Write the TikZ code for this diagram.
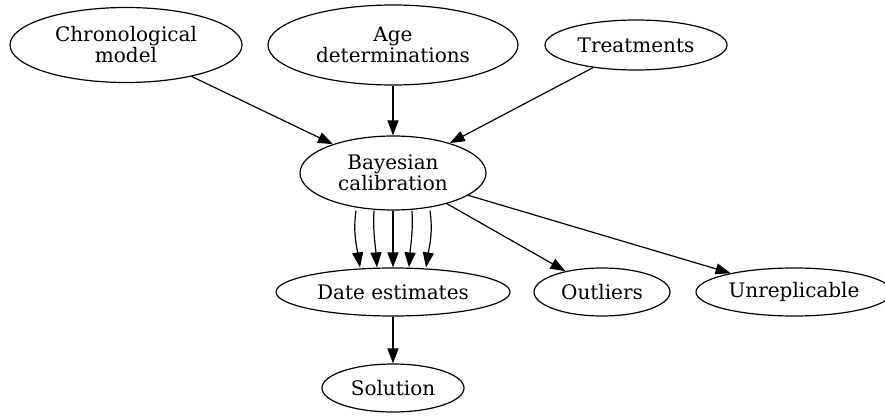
\documentclass[tikz,border=0pt]{standalone}
\usepackage{fontspec}
\setmainfont{DejaVu Serif}
\usetikzlibrary{arrows.meta,shapes.geometric}

\begin{document}
\begin{tikzpicture}[x=1pt,y=-1pt,>={Triangle[length=15pt,width=11pt]},line width=1.2pt,
 every node/.style={font=\fontsize{20}{21}\selectfont},
 blob/.style={draw,ellipse,align=center,inner sep=0pt}]
\useasboundingbox (0,0) rectangle (885,417);
\node[blob,minimum width=232,minimum height=75] (chrono) at (126,45) {Chronological\\model};
\node[blob,minimum width=250,minimum height=80] (ages) at (393,45) {Age\\determinations};
\node[blob,minimum width=182,minimum height=50] (treat) at (636,45) {Treatments};
\node[blob,minimum width=186,minimum height=74] (bayes) at (393,173) {Bayesian\\calibration};
\node[blob,minimum width=234,minimum height=48] (dates) at (393,292) {Date estimates};
\node[blob,minimum width=136,minimum height=48] (outl) at (602,292) {Outliers};
\node[blob,minimum width=196,minimum height=48] (unrep) at (794,292) {Unreplicable};
\node[blob,minimum width=142,minimum height=48] (sol) at (393,388) {Solution};
\draw[->] (chrono) -- (bayes);
\draw[->] (ages) -- (bayes);
\draw[->] (treat) -- (bayes);
\draw[->] ([xshift=-37]bayes.south) to[out=-98,in=99] ([xshift=-33]dates.north);
\draw[->] ([xshift=-19]bayes.south) to[out=-93,in=94] ([xshift=-16]dates.north);
\draw[->] (bayes.south) -- (dates.north);
\draw[->] ([xshift=19]bayes.south) to[out=-87,in=86] ([xshift=16]dates.north);
\draw[->] ([xshift=37]bayes.south) to[out=-82,in=81] ([xshift=33]dates.north);
\draw[->] (bayes) -- (outl);
\draw[->] (bayes) -- (unrep);
\draw[->] (dates) -- (sol);
\end{tikzpicture}
\end{document}
